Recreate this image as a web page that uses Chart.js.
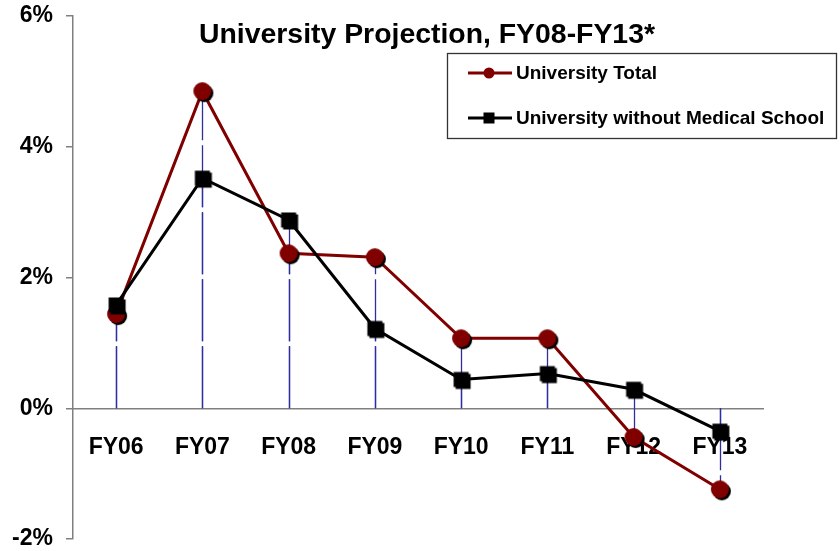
<!DOCTYPE html>
<html>
<head>
<meta charset="utf-8">
<script src="https://cdn.jsdelivr.net/npm/chart.js@4/dist/chart.umd.min.js"></script>
<style>
  html, body { margin: 0; padding: 0; background: #fff; }
  #wrap { width: 840px; height: 551px; }
</style>
</head>
<body>
<div id="wrap"><canvas id="c" width="840" height="551"></canvas></div>
<script>
// Annual change, fiscal years FY06–FY13 (percent)
const categories = ['FY06', 'FY07', 'FY08', 'FY09', 'FY10', 'FY11', 'FY12', 'FY13'];
const universityTotal = [1.44, 4.85, 2.37, 2.31, 1.07, 1.07, -0.44, -1.24];
const universityWithoutMed = [1.58, 3.52, 2.88, 1.22, 0.44, 0.53, 0.29, -0.35];
const yTickValues = [-2, 0, 2, 4, 6];
const seriesNames = ['University Total', 'University without Medical School'];
const chartTitle = 'University Projection, FY08-FY13*';

const FONT = "'Liberation Sans', Arial, Helvetica, sans-serif";
const MAROON = '#800000';
const BLACK = '#000000';

// Marker images with a small drop shadow
function makeMarker(kind, color, size) {
  const c = document.createElement('canvas');
  c.width = c.height = 26;
  const g = c.getContext('2d');
  const m = 13;
  const paint = (d, col) => {
    g.fillStyle = col;
    if (kind === 'circle') {
      g.beginPath();
      g.arc(m + d, m + d, size / 2, 0, Math.PI * 2);
      g.fill();
    } else {
      g.fillRect(m + d - size / 2, m + d - size / 2, size, size);
    }
  };
  paint(2, '#000');
  paint(0, color);
  return c;
}

// Vertical drop lines from each point to the zero line
const dropLines = {
  id: 'dropLines',
  beforeDatasetsDraw(chart, args, o) {
    const { ctx } = chart;
    const y0 = chart.scales.y.getPixelForValue(0);
    ctx.save();
    ctx.strokeStyle = o.color;
    ctx.lineWidth = o.width;
    ctx.setLineDash(o.dash);
    chart.data.datasets.forEach((ds, i) => {
      chart.getDatasetMeta(i).data.forEach(pt => {
        const x = Math.round(pt.x) + 0.5;
        ctx.beginPath();
        ctx.moveTo(x, y0);
        ctx.lineTo(x, pt.y);
        ctx.stroke();
      });
    });
    ctx.restore();
  }
};

// Title drawn over the plot area
const overlayTitle = {
  id: 'overlayTitle',
  afterDraw(chart, args, o) {
    const { ctx } = chart;
    ctx.save();
    ctx.font = `bold ${o.size}px ${FONT}`;
    ctx.fillStyle = '#000';
    ctx.textAlign = 'center';
    ctx.textBaseline = 'alphabetic';
    ctx.fillText(o.text, o.x, o.y);
    ctx.restore();
  }
};

// Framed legend inside the plot area, line + marker per series
const boxedLegend = {
  id: 'boxedLegend',
  afterDraw(chart, args, o) {
    const { ctx } = chart;
    ctx.save();
    ctx.fillStyle = '#fff';
    ctx.fillRect(o.left, o.top, o.width, o.height);
    ctx.strokeStyle = '#333';
    ctx.lineWidth = 1.3;
    ctx.strokeRect(o.left + 0.5, o.top + 0.5, o.width, o.height);
    chart.data.datasets.forEach((ds, i) => {
      const y = o.top + o.firstRow + i * o.rowGap;
      const x1 = o.left + 21, x2 = o.left + 65, xm = o.left + 42;
      ctx.strokeStyle = ds.borderColor;
      ctx.lineWidth = 3;
      ctx.beginPath();
      ctx.moveTo(x1, y);
      ctx.lineTo(x2, y);
      ctx.stroke();
      ctx.fillStyle = ds.borderColor;
      if (ds.legendMarker === 'circle') {
        ctx.beginPath();
        ctx.arc(xm, y, 5.5, 0, Math.PI * 2);
        ctx.fill();
      } else {
        ctx.fillRect(xm - 5.5, y - 5.5, 11, 11);
      }
      ctx.fillStyle = '#000';
      ctx.font = `bold ${o.fontSize}px ${FONT}`;
      ctx.textAlign = 'left';
      ctx.textBaseline = 'middle';
      ctx.fillText(ds.label, o.left + 69, y + 1);
    });
    ctx.restore();
  }
};

new Chart(document.getElementById('c'), {
  type: 'line',
  data: {
    labels: categories,
    datasets: [
      {
        label: seriesNames[0],
        data: universityTotal,
        borderColor: MAROON,
        backgroundColor: MAROON,
        borderWidth: 3,
        pointStyle: makeMarker('circle', MAROON, 18),
        legendMarker: 'circle',
        order: 1,
        tension: 0,
        fill: false
      },
      {
        label: seriesNames[1],
        data: universityWithoutMed,
        borderColor: BLACK,
        backgroundColor: BLACK,
        borderWidth: 3,
        pointStyle: makeMarker('square', BLACK, 15),
        legendMarker: 'square',
        order: 0,
        tension: 0,
        fill: false
      }
    ]
  },
  options: {
    responsive: false,
    animation: false,
    devicePixelRatio: 1,
    layout: { padding: { top: 16, right: 77, bottom: 12, left: 0 } },
    scales: {
      x: {
        type: 'category',
        offset: true,
        position: { y: 0 },
        grid: { drawOnChartArea: false, drawTicks: true, tickLength: 26, color: 'transparent' },
        border: { display: true, color: '#808080', width: 1.5 },
        ticks: {
          color: '#000',
          font: { family: FONT, size: 23, weight: 'bold' },
          maxRotation: 0,
          autoSkip: false,
          padding: 0
        }
      },
      y: {
        min: -2,
        max: 6,
        afterBuildTicks: s => { s.ticks = yTickValues.map(v => ({ value: v })); },
        afterFit: s => {
          s.width = 73;
          // end labels may overhang the plot edges without shrinking it
          s.paddingTop = 0;
          s.paddingBottom = 0;
        },
        grid: { drawOnChartArea: false, drawTicks: true, tickLength: 7, color: '#808080', lineWidth: 1.5 },
        border: { display: true, color: '#808080', width: 1.5 },
        ticks: {
          color: '#000',
          padding: 13,
          font: { family: FONT, size: 23, weight: 'bold', lineHeight: 1 },
          callback: v => v + '%'
        }
      }
    },
    plugins: {
      legend: { display: false },
      tooltip: { enabled: false },
      dropLines: { color: '#2e2e9e', width: 1.3, dash: [62, 5] },
      overlayTitle: { text: chartTitle, x: 427, y: 43, size: 28.4 },
      boxedLegend: { left: 447, top: 53, width: 389, height: 85, firstRow: 20, rowGap: 45, fontSize: 19 }
    }
  },
  plugins: [dropLines, overlayTitle, boxedLegend]
});
</script>
</body>
</html>
